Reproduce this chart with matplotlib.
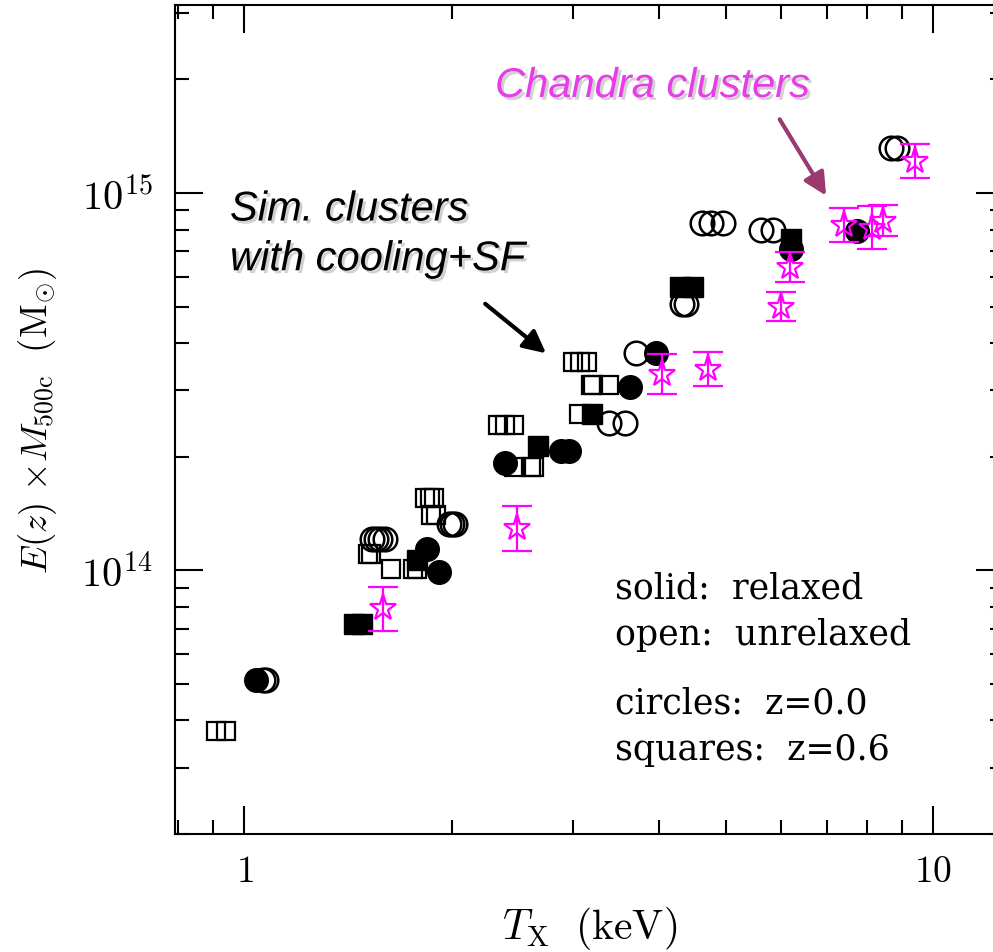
import matplotlib
matplotlib.use("Agg")
import matplotlib.pyplot as plt
import matplotlib.patheffects as pe
from matplotlib.ticker import NullFormatter
import numpy as np

plt.rcParams['mathtext.fontset'] = 'cm'

# simulated clusters: T_X in keV, E(z) M_500c in units of 1e14 Msun
open_circ_t = [1.065, 1.075, 1.532, 1.553, 1.574, 1.600, 1.982, 2.002, 2.022,
               3.383, 3.568, 3.703, 4.616, 4.757, 4.952, 4.318, 4.376,
               5.623, 5.853, 8.681, 8.857]
open_circ_m = [0.512, 0.512, 1.208, 1.208, 1.208, 1.208, 1.324, 1.324, 1.324,
               2.454, 2.454, 3.775, 8.35, 8.35, 8.35, 5.08, 5.08,
               8.00, 8.00, 13.2, 13.2]

fill_circ_t = [1.039, 1.841, 1.917, 2.390, 2.883, 2.961, 3.629, 3.953, 6.206, 7.749]
fill_circ_m = [0.512, 1.137, 0.988, 1.922, 2.068, 2.068, 3.058, 3.775, 7.10, 7.91]

open_sq_t = [0.909, 0.940, 1.512, 1.527, 1.633, 1.757, 1.781, 1.829, 1.860, 1.885,
             1.866, 1.898, 2.331, 2.390, 2.459, 2.463, 2.607, 2.633,
             3.000, 3.071, 3.144, 3.186, 3.208, 3.383, 3.060]
open_sq_m = [0.374, 0.374, 1.103, 1.103, 1.009, 1.006, 1.006, 1.557, 1.557, 1.557,
             1.399, 1.399, 2.432, 2.432, 2.432, 1.882, 1.882, 1.882,
             3.562, 3.562, 3.562, 3.095, 3.095, 3.095, 2.593]

fill_sq_t = [1.443, 1.482, 1.781, 2.669, 3.191, 4.289, 4.480, 6.206]
fill_sq_m = [0.721, 0.721, 1.063, 2.138, 2.593, 5.63, 5.63, 7.53]

# Chandra clusters with mass errors
chandra_t = [1.591, 2.488, 4.039, 4.710, 6.012, 6.194, 7.408, 8.147, 8.452, 9.390]
chandra_m = [0.793, 1.292, 3.311, 3.414, 5.00, 6.37, 8.23, 8.10, 8.45, 12.16]
chandra_lo = [0.690, 1.125, 2.930, 3.077, 4.57, 5.81, 7.41, 7.10, 7.69, 10.96]
chandra_hi = [0.905, 1.481, 3.741, 3.787, 5.46, 6.98, 9.13, 9.24, 9.29, 13.49]

notes = ['solid:  relaxed', 'open:  unrelaxed', 'circles:  z=0.0', 'squares:  z=0.6']
note_y = [0.285, 0.229, 0.146, 0.0905]

fig = plt.figure(figsize=(9.93, 9.53), dpi=100)
ax = fig.add_axes([175 / 993, 118 / 953, 829 / 993, 829 / 953])
ax.set_xscale('log')
ax.set_yscale('log')

u = 1e14
ax.plot(open_circ_t, np.array(open_circ_m) * u, 'o', ms=17, mfc='none', mec='k', mew=1.8, zorder=2)
ax.plot(open_sq_t, np.array(open_sq_m) * u, 's', ms=13.5, mfc='none', mec='k', mew=1.6, zorder=2)
ax.plot(fill_circ_t, np.array(fill_circ_m) * u, 'o', ms=17, color='k', zorder=3)
ax.plot(fill_sq_t, np.array(fill_sq_m) * u, 's', ms=14, color='k', zorder=3)

cm_ = np.array(chandra_m) * u
err = [cm_ - np.array(chandra_lo) * u, np.array(chandra_hi) * u - cm_]
ax.errorbar(chandra_t, cm_, yerr=err, fmt='*', ms=20, mfc='none', mec='magenta', mew=1.6,
            ecolor='magenta', elinewidth=1.6, capsize=10.5, capthick=1.6, zorder=5)

ax.set_xlim(0.793, 12.66)
ax.set_ylim(2e13, 3.15e15)

ax.set_xticks([1, 10])
ax.set_xticklabels([r'$1$', r'$10$'])
ax.set_yticks([1e14, 1e15])
ax.set_yticklabels([r'$10^{14}$', r'$10^{15}$'])
ax.xaxis.set_minor_formatter(NullFormatter())
ax.yaxis.set_minor_formatter(NullFormatter())
ax.tick_params(which='both', direction='in', top=True, right=True, width=1.5)
ax.tick_params(which='major', length=20)
ax.tick_params(which='minor', length=10)
ax.tick_params(axis='x', pad=14, labelsize=27)
ax.tick_params(axis='y', pad=16, labelsize=29)
for s in ax.spines.values():
    s.set_linewidth(1.5)

ax.set_xlabel(r'$T_{\rm X}\ \ ({\rm keV})$', fontsize=30)
ax.set_ylabel(r'$E(z)\ {\times}M_{\rm 500c}\ \ ({\rm M}_{{\odot}})$', fontsize=26.5)
ax.xaxis.set_label_coords(0.5, -0.084)
ax.yaxis.set_label_coords(-0.14, 0.50)

for txt, yy in zip(notes, note_y):
    ax.text(0.531, yy, txt, transform=ax.transAxes, fontsize=25,
            family='DejaVu Serif', va='baseline', ha='left')

shadow = [pe.withSimplePatchShadow(offset=(2, -2), shadow_rgbFace='0.6', alpha=0.45)]
ax.text(0.386, 0.889, 'Chandra clusters', transform=ax.transAxes, fontsize=30,
        family='Liberation Sans', style='italic', color='#e83ce8', va='baseline',
        path_effects=shadow)
ax.text(0.0663, 0.740, 'Sim. clusters', transform=ax.transAxes, fontsize=30,
        family='Liberation Sans', style='italic', color='k', va='baseline',
        path_effects=shadow)
ax.text(0.0663, 0.680, 'with cooling+SF', transform=ax.transAxes, fontsize=30,
        family='Liberation Sans', style='italic', color='k', va='baseline',
        path_effects=shadow)

ax.annotate('', xy=(2.76, 3.72e14), xytext=(2.22, 5.14e14),
            arrowprops=dict(arrowstyle='-|>', color='k', lw=3, mutation_scale=34))
ax.annotate('', xy=(7.02, 9.7e14), xytext=(5.953, 1.591e15),
            arrowprops=dict(arrowstyle='-|>', color='#9b3a6e', lw=3, mutation_scale=34))

fig.savefig('out.png', dpi=100)
